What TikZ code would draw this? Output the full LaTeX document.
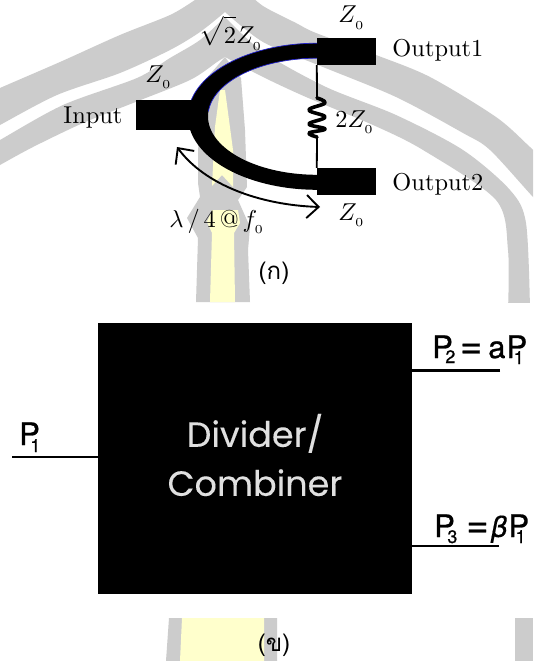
\documentclass[tikz,border=0pt]{standalone}
\usepackage{fontspec}
\usetikzlibrary{arrows.meta}
\newfontfamily\thaifont[Script=Thai]{Loma}
\newfontfamily\pop[FakeBold=0.15]{Poppins}
\newfontfamily\popb[FakeBold=0.8]{TeX Gyre Heros}
\newfontfamily\dvob[FakeBold=0.4]{DejaVu Sans Oblique}
\definecolor{wmgray}{HTML}{CCCCCC}
\definecolor{wmyellow}{HTML}{FFFFCC}
\definecolor{edgeblue}{HTML}{2222CC}
% P with a subscript tucked under its bowl: #1 = back-kern, #2 = drop, #3 = digit
\newcommand{\PSub}[3]{P\kern-#1pt\raisebox{-#2pt}{\fontsize{18}{18}\selectfont #3}}
\newcommand{\bigeq}{{\fontsize{38}{38}\selectfont =}}
\tikzset{
  x=1pt,y=-1pt,
  cmtext/.style={scale=2.44,inner sep=0pt,anchor=base west,text=black},
  cmmath/.style={scale=2.44,inner sep=0pt,anchor=base west,text=black},
  portbox/.style={fill=black,inner sep=0pt,minimum width=59pt,minimum height=27pt},
  plabel/.style={inner sep=0pt,anchor=base west,font=\fontsize{31}{36}\selectfont\popb,text=black},
  thailabel/.style={inner sep=0pt,font=\fontsize{24}{28}\selectfont\thaifont,text=black},
  thinwire/.style={line width=1.8pt,black},
  pline/.style={line width=2.8pt,black},
  wave/.style={line width=3.6pt,line cap=round,line join=round,black}
}
\begin{document}
\begin{tikzpicture}
\useasboundingbox (0,0) rectangle (533,661);
\fill[white] (0,0) rectangle (533,661);
% watermark, upper panel
\begin{scope}
\clip (0,0) rectangle (533,302);
\fill[wmgray] plot[smooth] coordinates {(-5,91) (0,88) (60,62) (120,35) (170,15) (195,0) (210,-10)}
  -- plot[smooth] coordinates {(245,-10) (263,6) (296,23) (316,33) (376,55) (430,77) (496,117) (530,147) (560,175)}
  -- plot[smooth] coordinates {(560,225) (533,197) (490,150) (463,133) (396,97) (318,65) (263,42) (225,12)}
  -- plot[smooth] coordinates {(225,12) (200,32) (170,50) (120,73) (57,95) (0,125) (-5,128)} -- cycle;
\fill[wmgray] plot[smooth] coordinates {(-5,143) (0,140) (63,105) (137,78) (170,58) (200,40) (225,17)}
  -- plot[smooth] coordinates {(225,17) (263,52) (326,87) (396,115) (463,150) (510,190) (526,223) (530,310)}
  -- plot[smooth] coordinates {(508,310) (508,250) (496,200) (423,150) (373,125) (306,97) (263,77) (225,57)}
  -- plot[smooth] coordinates {(225,57) (217,62) (190,80) (133,103) (83,123) (33,147) (0,165) (-5,168)} -- cycle;
\fill[wmgray] (225,57) -- (241,78) -- (245,130) -- (247,187) -- (238,200) -- (250,227) -- (248,250) -- (250,302)
  -- (196,302) -- (198,238) -- (187,218) -- (200,197) -- (198,183) -- (198,150) -- (205,80) -- cycle;
\fill[wmyellow] (220,90) -- (225,90) -- (233,150) -- (233,187) -- (222,175) -- (212,186) -- (215,127) -- cycle;
\fill[wmyellow] (212,210) -- (238,210) -- (240,223) -- (234,233) -- (235,302) -- (210,302) -- (212,233) -- (207,222) -- cycle;
\end{scope}
% watermark, lower panel
\fill[wmgray] (169,618) -- (277,618) -- (277,661) -- (166,661) -- cycle;
\fill[wmyellow] (182,618) -- (264,618) -- (264,661) -- (180,661) -- cycle;
\fill[wmgray] (515,618) -- (533,618) -- (533,661) -- (515,661) -- cycle;
% divider, upper panel
\node[portbox,minimum width=60pt,minimum height=30pt] (in) at (166,115) {};
\node[portbox] (outa) at (346.5,51.5) {};
\node[portbox] (outb) at (346.5,181.5) {};
\coordinate (rtop) at (317,98);
\coordinate (rbot) at (317,137);
\fill[black] plot[domain=0:180,samples=80] ({317-129*sin(\x)},{116.5-73.3*cos(\x)})
  -- plot[domain=180:0,samples=80] ({317-109*sin(\x)},{116.5-58.3*cos(\x)}) -- cycle;
\draw[edgeblue,line width=0.7pt] plot[domain=0:77,samples=40] ({317-129*sin(\x)},{116.5-73.3*cos(\x)});
\draw[edgeblue,line width=0.7pt] plot[domain=0:85,samples=40] ({317-109*sin(\x)},{116.5-58.3*cos(\x)});
\draw[thinwire] (outa.south west) -- (rtop);
\draw[thinwire] (rbot) -- (outb.north west);
\draw[wave] plot[smooth,tension=0.7] coordinates {(rtop) (325,103) (309,110) (325,117) (309,124) (325,129) (309,133) (rbot)};
\coordinate (arrowa) at (177,147);
\coordinate (arrowb) at (320,207);
\draw[line width=1.9pt,{Straight Barb[length=12pt,width=23pt,line width=1.9pt]}-{Straight Barb[length=12pt,width=23pt,line width=1.9pt]}]
  (arrowa) .. controls (205,185) and (260,205) .. (arrowb);
\node[cmtext] (tin) at (63,123) {Input};
\node[cmtext] (touta) at (392,56.5) {Output1};
\node[cmtext] (toutb) at (392,190) {Output2};
\node[cmmath] (zin) at (145,82) {$Z_{_0}$};
\node[cmmath] (zouta) at (338,23) {$Z_{_0}$};
\node[cmmath] (zoutb) at (338,220) {$Z_{_0}$};
\node[cmmath] (zsq) at (199,44) {$\sqrt{\rule{0pt}{9.5pt}2}Z_{_0}$};
\node[cmmath] (zres) at (335,127) {$2Z_{_0}$};
\node[cmmath] (tlam) at (169,227) {$\lambda$\kern1.6pt/\kern1.6pt4\kern1.6pt@\kern1.6pt$f_{_0}$};
\node[thailabel] (capa) at (274,273) {(ก)};
% block, lower panel
\node[fill=black,inner sep=0pt,minimum width=314pt,minimum height=271pt] (blk) at (255,458) {};
\node[text=black!12,inner sep=0pt,align=center,font=\fontsize{35}{49}\selectfont\pop] (blktext) at (255,455) {Divider/\\Combiner};
\coordinate (pina) at (12,457);
\coordinate (pouta) at (500,370.5);
\coordinate (poutb) at (499,546);
\draw[pline] (pina) -- (pina -| blk.west);
\draw[pline] (pouta) -- (pouta -| blk.east);
\draw[pline] (poutb) -- (poutb -| blk.east);
\node[plabel] (lp1) at (19,445) {\PSub{9.5}{7}{1}};
\node[plabel] (lp2) at (432,358) {\PSub{7.5}{5}{2}\kern4.7pt\bigeq\kern6pt a\kern1pt\PSub{13.5}{6}{1}};
\node[plabel] (lp3) at (434,537) {\PSub{7.5}{6}{3}\kern9pt\bigeq\kern2pt{\dvob\fontsize{28}{28}\selectfont β}\kern0pt\PSub{13.5}{6}{1}};
\node[thailabel] (capb) at (274,645) {(ข)};
\end{tikzpicture}
\end{document}
